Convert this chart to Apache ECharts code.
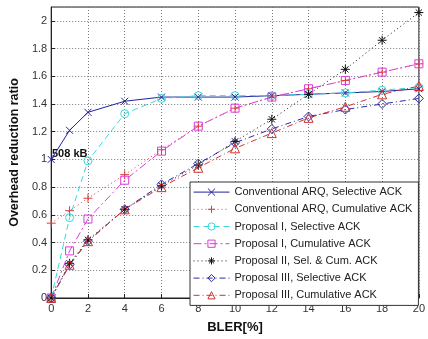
<!DOCTYPE html>
<html>
<head>
<meta charset="utf-8">
<script src="https://cdn.jsdelivr.net/npm/echarts@6/dist/echarts.min.js"></script>
<style>
  html, body { margin: 0; padding: 0; background: #fff; }
  #chart { width: 428px; height: 339px; }
</style>
</head>
<body>
<div id="chart"></div>
<script>
// BLER [%] on x axis
const bler = [0, 1, 2, 4, 6, 8, 10, 12, 14, 16, 18, 20];

// overhead reduction ratio
const convSel = [1.0, 1.21, 1.34, 1.42, 1.45, 1.45, 1.45, 1.46, 1.47, 1.48, 1.49, 1.51];
const convCum = [0.54, 0.63, 0.72, 0.89, 1.07, 1.24, 1.37, 1.45, 1.51, 1.57, 1.63, 1.69];
const p1Sel = [0, 0.58, 0.99, 1.33, 1.44, 1.46, 1.46, 1.46, 1.47, 1.48, 1.5, 1.52];
const p1Cum = [0, 0.34, 0.57, 0.85, 1.06, 1.24, 1.37, 1.45, 1.51, 1.57, 1.63, 1.69];
const p2 = [0, 0.25, 0.42, 0.64, 0.81, 0.96, 1.13, 1.29, 1.47, 1.65, 1.86, 2.06];
const p3Sel = [0, 0.24, 0.41, 0.64, 0.82, 0.97, 1.12, 1.22, 1.31, 1.36, 1.4, 1.44];
const p3Cum = [0, 0.24, 0.41, 0.64, 0.8, 0.94, 1.08, 1.19, 1.3, 1.38, 1.47, 1.53];

const names = [
    'Conventional ARQ, Selective ACK',
    'Conventional ARQ, Cumulative ACK',
    'Proposal I, Selective ACK',
    'Proposal I, Cumulative ACK',
    'Proposal II, Sel. & Cum. ACK',
    'Proposal III, Selective ACK',
    'Proposal III, Cumulative ACK'
];

const symX = 'path://M0,0L10,10M10,0L0,10';
const symPlus = 'path://M5,0L5,10M0,5L10,5';
const symStar = 'path://M5,0L5,10M0,5L10,5M1.5,1.5L8.5,8.5M8.5,1.5L1.5,8.5';
const symCircle = 'path://M10,5A5,5,0,1,1,0,5A5,5,0,1,1,10,5Z';
const symSquare = 'path://M0,0L10,0L10,10L0,10Z';
const symDiamond = 'path://M5,0L10,5L5,10L0,5Z';
const symTri = 'path://M5,0L10,9L0,9Z';

const mk = (name, vals, color, type, symbol, size) => ({
    name: name,
    type: 'line',
    data: bler.map((x, i) => [x, vals[i]]),
    symbol: symbol,
    symbolSize: size,
    lineStyle: { color: color, width: 1, type: type },
    itemStyle: { color: 'none', borderColor: color, borderWidth: 1 },
    emphasis: { disabled: true },
    animation: false
});

const chartDom = document.getElementById('chart');
const myChart = echarts.init(chartDom);

const option = {
    backgroundColor: '#fff',
    grid: {
        left: 47, right: 4, top: 7, bottom: 35,
        show: true, borderColor: '#222', borderWidth: 1
    },
    xAxis: {
        type: 'value', min: 0, max: 20, interval: 2,
        name: 'BLER[%]', nameLocation: 'middle', nameGap: 23,
        nameTextStyle: { fontFamily: 'Liberation Sans', fontWeight: 'bold', fontSize: 13, color: '#111' },
        axisLine: { lineStyle: { color: '#222' } },
        axisTick: { inside: true, length: 4, lineStyle: { color: '#222' } },
        axisLabel: { fontFamily: 'Liberation Sans', fontSize: 11, color: '#333', margin: 5 },
        splitLine: { show: true, lineStyle: { color: '#777', type: [1, 2] } }
    },
    yAxis: {
        type: 'value', min: 0, max: 2.1, interval: 0.2,
        name: 'Overhead reduction ratio', nameLocation: 'middle', nameGap: 27,
        nameTextStyle: { fontFamily: 'Liberation Sans', fontWeight: 'bold', fontSize: 12.5, color: '#111' },
        axisLine: { lineStyle: { color: '#222' } },
        axisTick: { inside: true, length: 4, lineStyle: { color: '#222' } },
        axisLabel: { fontFamily: 'Liberation Sans', fontSize: 11, color: '#333', margin: 4, showMaxLabel: false },
        splitLine: { show: true, lineStyle: { color: '#777', type: [1, 2] } }
    },
    legend: {
        orient: 'vertical', left: 190, top: 182,
        itemWidth: 36, itemHeight: 9, itemGap: 5,
        padding: [4, 6, 4, 3],
        backgroundColor: '#fff', borderColor: '#333', borderWidth: 1,
        lineStyle: { width: 1 },
        itemStyle: { borderWidth: 1 },
        textStyle: { fontFamily: 'Liberation Sans', fontSize: 11, color: '#222' },
        data: names
    },
    graphic: [{
        type: 'text', left: 52, top: 148,
        style: { text: '508 kB', font: 'bold 11px "Liberation Sans"', fill: '#111' }
    }],
    series: [
        mk(names[0], convSel, '#23239a', 'solid', symX, 7),
        mk(names[1], convCum, '#e03a3a', [1, 3], symPlus, 9),
        mk(names[2], p1Sel, '#3ad8dc', [6, 4], symCircle, 8),
        mk(names[3], p1Cum, '#d83cd8', [8, 3, 2, 3], symSquare, 8),
        mk(names[4], p2, '#111111', [1, 3], symStar, 9),
        mk(names[5], p3Sel, '#2a2aa8', [6, 3, 1, 3], symDiamond, 9),
        mk(names[6], p3Cum, '#d43030', [6, 3, 1, 3], symTri, 9)
    ]
};

myChart.setOption(option);
window.addEventListener('resize', () => myChart.resize());
</script>
</body>
</html>
